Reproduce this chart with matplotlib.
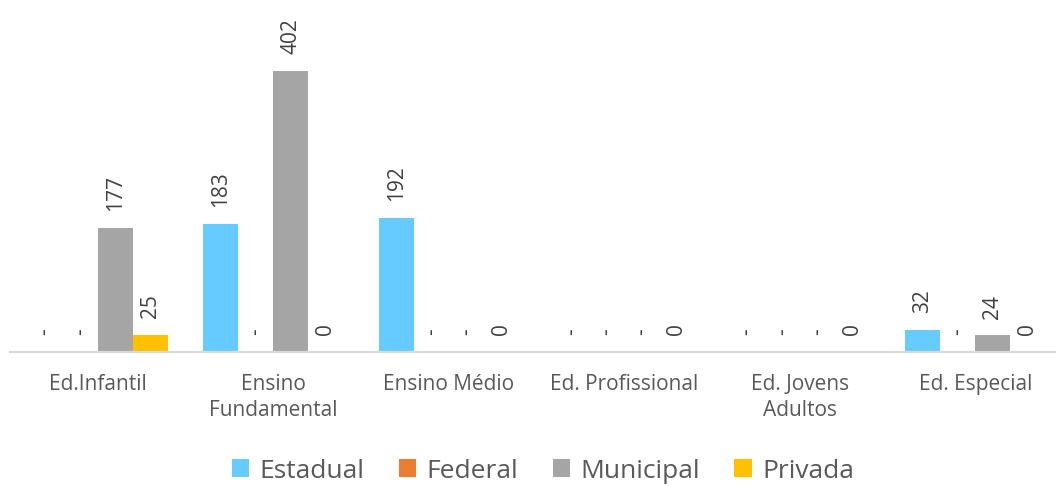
import matplotlib
matplotlib.use("Agg")
import matplotlib.pyplot as plt
import numpy as np

plt.rcParams['font.family'] = ['Open Sans', 'DejaVu Sans']

# matrículas por etapa e dependência administrativa (None = sem oferta, mostrado como "-")
categorias = ["Ed.Infantil", "Ensino\nFundamental", "Ensino Médio",
              "Ed. Profissional", "Ed. Jovens\nAdultos", "Ed. Especial"]
estadual = [None, 183, 192, None, None, 32]
federal = [None, None, None, None, None, None]
municipal = [177, 402, None, None, None, 24]
privada = [25, 0, 0, 0, 0, 0]

series = [("Estadual", estadual, "#66CCFF"),
          ("Federal", federal, "#ED7D31"),
          ("Municipal", municipal, "#A5A5A5"),
          ("Privada", privada, "#FFC000")]

texto = "#595959"

fig = plt.figure(figsize=(10.56, 4.86), dpi=100)
ax = fig.add_axes([10 / 1056, 134 / 486, 1 - 10 / 1056, 352 / 486])

x = np.arange(len(categorias))
largura = 0.2
for i, (nome, vals, cor) in enumerate(series):
    pos = x + (i - 1.5) * largura
    alturas = [v if v is not None else 0 for v in vals]
    ax.bar(pos, alturas, largura, color=cor, label=nome)
    for p, v, h in zip(pos, vals, alturas):
        rotulo = "-" if v is None else str(v)
        ax.annotate(rotulo, (p, h), xytext=(0, 12), textcoords="offset points",
                    rotation=90, ha="center", va="bottom",
                    fontsize=15, color="#404040")

ax.set_xlim(-0.5, 5.46)
ax.set_ylim(0, 503)
ax.set_xticks(x)
ax.set_xticklabels(categorias, fontsize=15, color=texto, linespacing=1.3)
ax.tick_params(axis="x", length=0, pad=16)
ax.set_yticks([])
for lado in ("top", "right", "left"):
    ax.spines[lado].set_visible(False)
ax.spines["bottom"].set_color("#D9D9D9")
ax.spines["bottom"].set_linewidth(1.6)

leg = fig.legend(loc="center", bbox_to_anchor=(543 / 1056, 1 - 471 / 486),
                 ncol=4, frameon=False, fontsize=19, handlelength=0.65,
                 handleheight=0.65, handletextpad=0.4, columnspacing=1.3)
for t in leg.get_texts():
    t.set_color(texto)

fig.savefig("out.png", dpi=100)
